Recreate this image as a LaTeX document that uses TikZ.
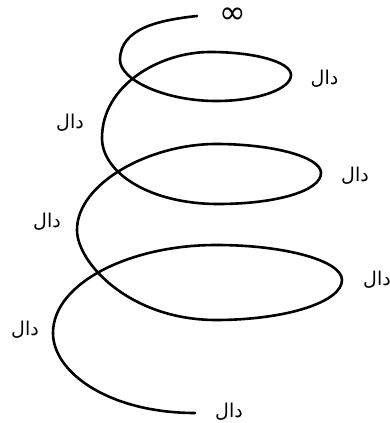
\documentclass[tikz,border=0pt]{standalone}
\usepackage{fontspec}
\TeXXeTstate=1
\newfontfamily\arabicfont[Script=Arabic]{DejaVu Sans}
\newfontfamily\symfont{DejaVu Sans}
\begin{document}
\begin{tikzpicture}[x=1pt,y=1pt,
  lbl/.style={inner sep=0pt,font=\arabicfont\fontsize{19}{19}\selectfont},
  spiral/.style={line width=2.6pt,line cap=round,line join=round}]
\useasboundingbox (0,0) rectangle (390,423);
\coordinate (A) at (197,407);
\coordinate (L1) at (120,363);
\coordinate (B1) at (216,322);
\coordinate (R1) at (291,348);
\coordinate (T1) at (210,371);
\coordinate (L2) at (102,285);
\coordinate (B2) at (218,219);
\coordinate (R2) at (321,250);
\coordinate (T2) at (216,279);
\coordinate (L3) at (77,193);
\coordinate (B3) at (216,103);
\coordinate (R3) at (342,143);
\coordinate (T3) at (216,178);
\coordinate (L4) at (53,90);
\coordinate (E) at (195,10);
\draw[spiral] (A) .. controls (160,403) and (120,395) .. (L1)
  .. controls (120,343) and (165,322) .. (B1)
  .. controls (258,322) and (291,334) .. (R1)
  .. controls (291,361) and (255,371) .. (T1)
  .. controls (160,371) and (102,338) .. (L2)
  .. controls (102,250) and (150,219) .. (B2)
  .. controls (276,219) and (321,232) .. (R2)
  .. controls (321,266) and (273,279) .. (T2)
  .. controls (150,279) and (77,240) .. (L3)
  .. controls (77,160) and (130,103) .. (B3)
  .. controls (286,103) and (342,121) .. (R3)
  .. controls (342,162) and (286,178) .. (T3)
  .. controls (130,178) and (53,140) .. (L4)
  .. controls (53,50) and (110,10) .. (E);
\node[inner sep=0pt,font=\symfont\fontsize{32}{32}\selectfont] (inf) at (232.5,407) {∞};
\node[lbl] (d1) at (324.5,344.5) {\beginR دال\endR};
\node[lbl] (d2) at (70,300) {\beginR دال\endR};
\node[lbl] (d3) at (355,247) {\beginR دال\endR};
\node[lbl] (d4) at (47,201) {\beginR دال\endR};
\node[lbl] (d5) at (377,143.5) {\beginR دال\endR};
\node[lbl] (d6) at (25,93) {\beginR دال\endR};
\node[lbl] (d7) at (229,11) {\beginR دال\endR};
\end{tikzpicture}
\end{document}
